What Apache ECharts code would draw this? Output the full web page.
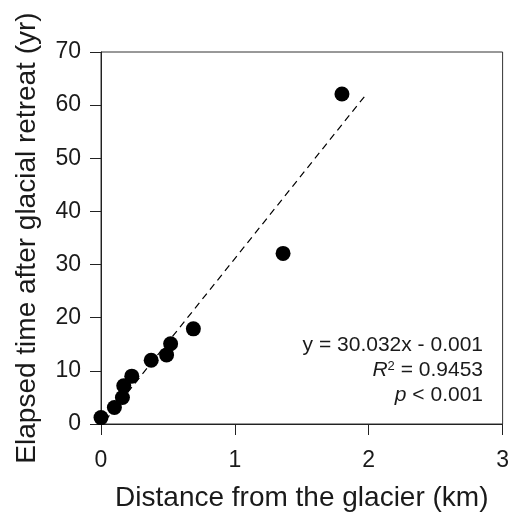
<!DOCTYPE html>
<html>
	<head>
		<meta charset="utf-8">
		<title>Glacier chronosequence</title>
		<script src="https://cdn.jsdelivr.net/npm/echarts@6/dist/echarts.min.js"></script>
		<style type="text/css">
			html, body { margin: 0; padding: 0; background: #fff; }
			#chart { width: 512px; height: 524px; }
		</style>
	</head>
	<body>
		<div id="chart"></div>
		<script type="text/javascript">
			// distance from glacier (km) and elapsed time (yr)
			var distKm = [0, 0.10, 0.16, 0.17, 0.23, 0.375, 0.49, 0.52, 0.69, 1.36, 1.80];
			var elapsedYr = [1.2, 3.1, 5.0, 7.2, 9.0, 12.0, 13.0, 15.1, 17.9, 32.1, 62.1];
			// fitted line ends as drawn
			var fitX = [0.03, 1.98];
			var fitY = [0.6, 62.0];
			var xTicks = [0, 1, 2, 3];
			var yTicks = [0, 10, 20, 30, 40, 50, 60, 70];
			var statLines = ['y = 30.032x - 0.001', '{i|R}{s|2} = 0.9453', '{i|p} < 0.001'];

			var font = '"Liberation Sans", Arial, sans-serif';
			var ink = '#1a1a1a';
			var chart = echarts.init(document.getElementById('chart'));

			var pts = distKm.map(function (d, i) { return [d, elapsedYr[i]]; });
			var fit = fitX.map(function (d, i) { return [d, fitY[i]]; });

			var option = {
				animation: false,
				grid: {
					left: 101, right: 9, top: 52, bottom: 100,
					show: true, borderColor: '#333', borderWidth: 1
				},
				xAxis: {
					type: 'value',
					min: xTicks[0], max: xTicks[xTicks.length - 1], interval: 1,
					name: 'Distance from the glacier (km)',
					nameLocation: 'middle', nameGap: 60,
					nameTextStyle: { fontFamily: font, fontSize: 28, color: ink },
					axisLine: { lineStyle: { color: '#222', width: 1 } },
					axisTick: { show: true, inside: false, length: 11, lineStyle: { color: '#222' } },
					axisLabel: { fontFamily: font, fontSize: 23, color: ink, margin: 25 },
					splitLine: { show: false }
				},
				yAxis: {
					type: 'value',
					min: yTicks[0], max: yTicks[yTicks.length - 1], interval: 10,
					name: 'Elapsed time after glacial retreat (yr)',
					nameLocation: 'middle', nameGap: 60,
					nameTextStyle: { fontFamily: font, fontSize: 28, color: ink },
					axisLine: { show: true, lineStyle: { color: '#222', width: 1 } },
					axisTick: { show: true, inside: false, length: 11, lineStyle: { color: '#222' } },
					axisLabel: { fontFamily: font, fontSize: 23, color: ink, margin: 20 },
					splitLine: { show: false }
				},
				series: [{
					type: 'line',
					data: fit,
					symbol: 'none',
					lineStyle: { color: '#000', width: 1.2, type: [7, 5] },
					z: 1
				}, {
					type: 'scatter',
					data: pts,
					symbol: 'circle',
					symbolSize: 15,
					itemStyle: { color: '#000', opacity: 1 },
					z: 2
				}],
				graphic: statLines.map(function (t, i) {
					return {
						type: 'text',
						right: 29,
						top: 335 + i * 25,
						style: {
							text: t,
							font: '21px ' + font,
							fill: ink,
							textAlign: 'right',
							rich: {
								i: { fontStyle: 'italic', fontSize: 21, fontFamily: font, fill: ink },
								s: { fontSize: 13, fontFamily: font, verticalAlign: 'top', padding: [0, 0, 7, 0], fill: ink }
							}
						}
					};
				})
			};
			chart.setOption(option);
		</script>
	</body>
</html>
